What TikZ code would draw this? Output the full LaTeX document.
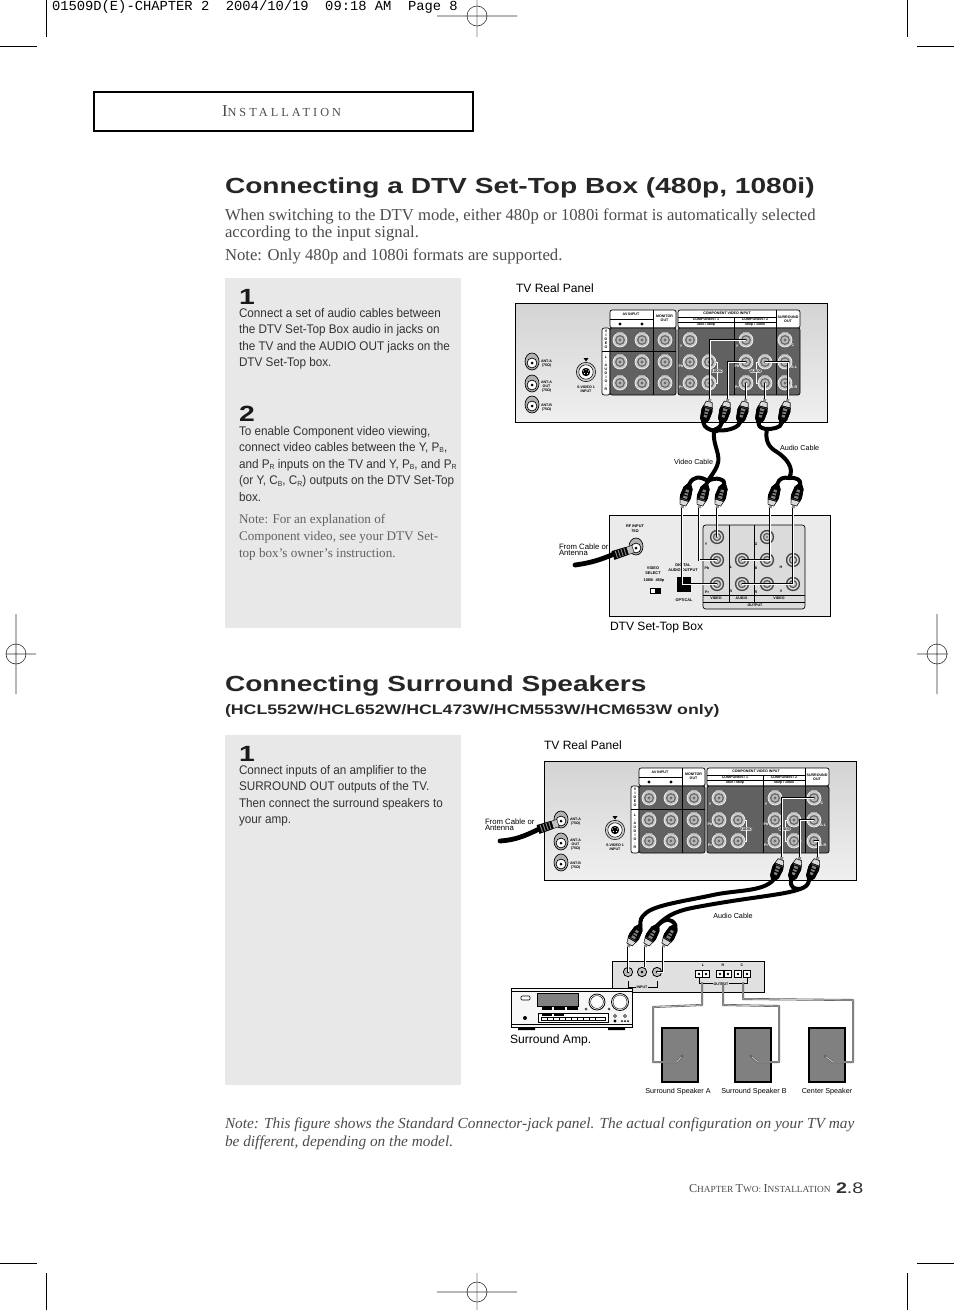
\documentclass[tikz,border=0pt]{standalone}
\usepackage{fontspec}
\setmainfont{Liberation Serif}
\newfontfamily\sn[FakeStretch=0.935]{Liberation Sans}
\newfontfamily\hd[FakeStretch=1.285]{Liberation Sans}
\newfontfamily\pn{Liberation Sans}
\newfontfamily\mn{Liberation Mono}
\tikzset{
  x=0.75pt,y=-0.75pt,
  txt/.style={inner sep=0pt,outer sep=0pt,anchor=base west},
  para/.style={inner sep=0pt,outer sep=0pt,anchor=north west,align=left},
  capt/.style={inner sep=0pt,outer sep=0pt,anchor=base west,font=\pn\fontsize{9.05}{10}\selectfont,text=black},
  lbl/.style={inner sep=0pt,outer sep=0pt,font=\pn\fontsize{5.4}{5.6}\selectfont,text=black},
  pt/.style={inner sep=0pt,outer sep=0pt,align=center,font=\pn\bfseries\fontsize{2.7}{3.0}\selectfont,text=black},
  ptw/.style={pt,text=white},
  pts/.style={inner sep=0pt,outer sep=0pt,align=center,font=\pn\bfseries\fontsize{2.9}{3.6}\selectfont,text=black},
  crop/.style={draw=black,line width=0.7pt},
  reg/.style={draw=black!80,line width=0.45pt},
  regl/.style={draw=black!18,line width=0.9pt},
  jacknode/.style={circle,inner sep=0pt,minimum size=9pt,fill=white,draw=black,line width=0.25pt},
  panelbox/.style={draw=black,line width=0.75pt,top color=black!17,bottom color=black!6},
  darkblock/.style={fill=black!62,draw=black,line width=0.5pt},
  hline/.style={draw=black,line width=0.5pt},
  wire/.style={draw=black,line width=0.3pt,double=white,double distance=0.7pt},
  cable/.style={draw=black,line width=3pt,line cap=round,line join=round},
  spkwire/.style={draw=black!65,line width=0.45pt,double=black!20,double distance=0.6pt,line join=round},
  spk/.style={draw=black,line width=1.3pt,fill=black!50,inner sep=0pt,minimum width=27pt,minimum height=40.5pt},
  amp/.style={draw=black,line width=0.7pt,fill=black!3},
  ampb/.style={draw=black,line width=0.4pt,fill=white},
}
% jack on dark block: name, x, y
\newcommand{\jackgeneric}[3]{%
  \node[jacknode,minimum size=10.6pt,fill=black!22,draw=white,line width=0.4pt] (#1) at (#2,#3) {};
  \fill[black!22] (#2-5.2,#3-2) -- (#2-3,#3-7.6) -- (#2+3,#3-7.6) -- (#2+5.2,#3-2) -- cycle;
  \fill[black!58] (#2,#3) circle (5.0);
  \fill[black!28] (#2,#3) circle (3.5);
  \fill[black!58] (#2,#3) circle (1.7);
}
% jack on light block
\newcommand{\jackd}[3]{%
  \node[jacknode,minimum size=10.4pt,fill=black!75,draw=black!75] (#1) at (#2,#3) {};
  \fill[black!15] (#2,#3) circle (5.7);
  \fill[black!65] (#2,#3) circle (4.2);
  \fill[black!22] (#2,#3) circle (2.8);
  \fill[black!55] (#2,#3) circle (1.2);
}
% antenna jack
\newcommand{\antjack}[3]{%
  \fill[black!30,draw=black,line width=0.5pt] (#2,#3-1.5) ellipse (7 and 8.5);
  \node[jacknode,minimum size=7.4pt,fill=white,draw=black,line width=0.5pt] (#1) at (#2,#3) {};
  \fill[black] (#2,#3) circle (1.5);
}
% plug: name, tip x, tip y, angle
\newcommand{\plugg}[4]{%
  \begin{scope}[shift={(#2,#3)},rotate=#4]
    \coordinate (#1-tip) at (0,0);
    \coordinate (#1-back) at (0,25);
    \fill[black!45] (-1.4,0) rectangle (1.4,3);
    \fill[black!15,draw=black,line width=0.3pt] (-3,3) -- (3,3) -- (4.4,8) -- (-4.4,8) -- cycle;
    \fill[black] (-4.8,8) -- (4.8,8) -- (5.6,12) -- (4.6,21) -- (1.9,25) -- (-1.9,25) -- (-4.6,21) -- (-5.6,12) -- cycle;
    \fill[black!50] (-2.2,10) -- (2.2,10) -- (1.5,19) -- (-1.5,19) -- cycle;
    \fill[black] (-2.2,12.5) rectangle (2.2,13.5) (-2.2,15.5) rectangle (2.2,16.5);
    \draw[black!60,line width=0.3pt] (-4.2,8.8) -- (4.2,8.8);
  \end{scope}
}
% antenna plug (shift, angle)
\newcommand{\antplug}[3]{%
  \begin{scope}[shift={(#1,#2)},rotate=#3]
    \fill[black!25,draw=black,line width=0.3pt] (-3.8,0) rectangle (3.8,6);
    \fill[black] (-4.2,6) -- (4.2,6) -- (4.6,21) -- (-4.6,21) -- cycle;
    \fill[black!45] (-3.6,8) rectangle (3.6,9) (-3.6,11) rectangle (3.6,12) (-3.6,14) rectangle (3.6,15) (-3.6,17) rectangle (3.6,18);
  \end{scope}
}
% TV rear panel at offset
\newcommand{\tvpanel}[3]{% prefix, dx, dy
  \begin{scope}[shift={(#2,#3)}]
    \node[panelbox,inner sep=0pt,minimum width=234pt,minimum height=89.5pt,anchor=north west] (#1-box) at (515,303) {};
    \draw[hline,fill=white,rounded corners=1.6] (610,328) -- (610,310) -- (676,310) -- (676,328) -- cycle;
    \draw[hline] (653,310) -- (653,328) (610,319) -- (653,319);
    \node[pt] (#1-av) at (631,314.5) {AV INPUT};
    \node[pt] (#1-mon) at (664.5,318.5) {MONITOR\\OUT};
    \node[circle,fill=black,inner sep=0pt,minimum size=2.4pt] (#1-c1) at (620,324) {};
    \node[circle,fill=black,inner sep=0pt,minimum size=2.4pt] (#1-c2) at (642,324) {};
    \draw[hline,fill=white,rounded corners=1.6] (610,328) -- (602,328) -- (602,395) -- (610,395) -- cycle;
    \node[pt] (#1-vv) at (606,339.5) {V\\I\\D\\E\\O};
    \node[pt] (#1-vl) at (606,373) {L\\-\\A\\U\\D\\I\\O\\-\\R};
    \draw[darkblock,rounded corners=1.6] (610,328) -- (676,328) -- (676,395) -- (610,395) -- cycle;
    \draw[hline] (653,328) -- (653,395) (602,351) -- (676,351);
    \draw[hline,fill=white,rounded corners=1.6] (678,328) -- (678,310) -- (800,310) -- (800,328) -- cycle;
    \draw[hline] (776,310) -- (776,328) (678,317) -- (776,317) (678,322) -- (776,322) (734,317) -- (734,328);
    \node[pt] (#1-cv) at (727,313.6) {COMPONENT VIDEO INPUT};
    \node[pt] (#1-c1t) at (706,319.6) {COMPONENT 1};
    \node[pt] (#1-c2t) at (755,319.6) {COMPONENT 2};
    \node[pt] (#1-r1) at (706,325) {480i / 480p};
    \node[pt] (#1-r2) at (755,325) {480p / 1080i};
    \node[pt] (#1-sur) at (788,319) {SURROUND\\OUT};
    \draw[darkblock,rounded corners=1.6] (678,328) -- (800,328) -- (800,395) -- (678,395) -- cycle;
    \draw[hline] (734,328) -- (734,395) (776,328) -- (776,395);
    \foreach \nm/\xx/\yy in {a1/620/340,a2/642/340,a3/665/340,a4/620/362,a5/642/362,a6/665/362,a7/620/383,a8/642/383,a9/665/383,
      y1/690/340,b1/690/362,l1/709/362,r1/690/383,rr1/709/383,y2/746/340,b2/746/362,l2/765/362,r2/746/383,rr2/765/383,c/785/340,sl/785/362,sr/785/383}{
      \jackgeneric{#1-\nm}{\xx}{\yy}
    }
    \draw[white,line width=0.4pt] (716,362.5) -- (717.5,362.5) -- (717.5,383.5) -- (716,383.5);
    \draw[white,line width=0.4pt] (758,362.5) -- (756,362.5) -- (756,383.5) -- (758,383.5);
    \node[pt,fill=white,rounded corners=1,inner sep=0.3pt] (#1-ad1) at (717,371) {AUDIO};
    \node[pt,fill=white,rounded corners=1,inner sep=0.3pt] (#1-ad2) at (755.5,371) {AUDIO};
    \foreach \tt/\xx/\yy in {Y/681/346,Pb/681/366,Pr/681/387,Y/737/346,Pb/737/366,Pr/737/387}{
      \node[ptw] at (\xx,\yy) {\tt};
    }
    \node[ptw] (#1-tc) at (793,345) {C};
    \node[ptw] (#1-tl) at (794,367) {A-L};
    \node[ptw] (#1-tr) at (794,387) {A-R};
    \antjack{#1-ant1}{532}{363}
    \antjack{#1-ant2}{532}{385}
    \antjack{#1-ant3}{532}{406}
    \node[pt,anchor=west] (#1-t1) at (541,364) {ANT-A\\(75Ω)};
    \node[pt,anchor=west] (#1-t2) at (541,387) {ANT-A\\OUT\\(75Ω)};
    \node[pt,anchor=west] (#1-t3) at (541,408) {ANT-B\\(75Ω)};
    \node[circle,inner sep=0pt,minimum size=14.5pt,fill=black!20,draw=black,line width=0.4pt] (#1-sv) at (586,372) {};
    \draw[black,line width=0.4pt,fill=white] (586,372) circle (7.2);
    \fill[black] (586,372) circle (4.2);
    \fill[white] (583.5,371) circle (0.7) (588.5,371) circle (0.7) (586,369.5) circle (0.7) (584.5,373.5) circle (0.7) (587.5,373.5) circle (0.7);
    \fill[black] (583.5,358) -- (588.5,358) -- (586,361.5) -- cycle;
    \node[pt] (#1-svt) at (586,389.5) {S-VIDEO 1\\INPUT};
  \end{scope}
}
\newcommand{\sbb}[1]{\raisebox{-0.2ex}{\fontsize{5.5}{6}\selectfont #1}}
\begin{document}
\begin{tikzpicture}
\useasboundingbox (0,0) rectangle (954,1310);
\fill[white] (0,0) rectangle (954,1310);

% ---------- print marks
\draw[crop] (46,0) -- (46,37) (907,0) -- (907,37) (0,46) -- (37,46) (917,46) -- (954,46);
\draw[crop] (46,1273) -- (46,1310) (907,1273) -- (907,1310) (0,1263) -- (37,1263) (917,1263) -- (954,1263);
\draw[regl] (477,0) -- (477,37);
\draw[reg] (437,16) -- (517,16) (477,16) circle (10);
\draw[regl] (477,1273) -- (477,1310);
\draw[reg] (437,1292) -- (517,1292) (477,1292) circle (10);
\draw[reg] (16,614) -- (16,694) (6,654) -- (36,654) (16,654) circle (10);
\draw[reg] (937,614) -- (937,694) (917,654) -- (948,654) (937,654) circle (10);
\node[txt,font=\mn\fontsize{10.35}{11}\selectfont] (slug) at (52,10.5) {01509D(E)-CHAPTER 2\ \ 2004/10/19\ \ 09:18 AM\ \ Page 8};

% ---------- header
\draw[black,line width=0.8pt] (94,92) rectangle (473,131);
\node[txt,text=black!70] (head) at (222,116.5) {\addfontfeature{LetterSpace=25}\fontsize{12.5}{13}\selectfont I\fontsize{9.2}{10}\selectfont NSTALLATION};

% ---------- titles
\node[txt,font=\hd\bfseries\fontsize{16.4}{18}\selectfont,text=black!85] (t1) at (225,193) {Connecting a DTV Set-Top Box (480p, 1080i)};
\node[para,font=\fontsize{12.5}{12.8}\selectfont,text=black!70] (p1) at (225,208.5) {When switching to the DTV mode, either 480p or 1080i format is automatically selected\\according to the input signal.};
\node[txt,font=\fontsize{12.5}{13}\selectfont,text=black!70] (p2) at (225,260) {Note: Only 480p and 1080i formats are supported.};
\node[txt,font=\hd\bfseries\fontsize{16.4}{18}\selectfont,text=black!85] (t2) at (225,691) {Connecting Surround Speakers};
\node[txt,font=\hd\bfseries\fontsize{10.35}{11}\selectfont,text=black!85] (t3) at (225,714) {(HCL552W/HCL652W/HCL473W/HCM553W/HCM653W only)};

% ---------- grey boxes
\fill[black!9] (225,278) rectangle (461,628);
\fill[black!9] (225,735) rectangle (461,1085);

\node[txt,font=\hd\bfseries\fontsize{16.5}{18}\selectfont,text=black!90] (n1) at (239,304) {1};
\node[para,font=\sn\fontsize{9.4}{12.4}\selectfont,text=black!80] (s1) at (239,308) {Connect a set of audio cables between\\the DTV Set-Top Box audio in jacks on\\the TV and the AUDIO OUT jacks on the\\DTV Set-Top box.};
\node[txt,font=\hd\bfseries\fontsize{16.5}{18}\selectfont,text=black!90] (n2) at (239,421) {2};
\node[para,font=\sn\fontsize{9.4}{12.4}\selectfont,text=black!80] (s2) at (239,426) {To enable Component video viewing,\\connect video cables between the Y, P\sbb{B},\\and P\sbb{R} inputs on the TV and Y, P\sbb{B}, and P\sbb{R}\\(or Y, C\sbb{B}, C\sbb{R}) outputs on the DTV Set-Top\\box.};
\node[para,font=\fontsize{9.85}{12.75}\selectfont,text=black!62] (s3) at (239,514.5) {Note: For an explanation of\\Component video, see your DTV Set-\\top box’s owner’s instruction.};
\node[txt,font=\hd\bfseries\fontsize{16.5}{18}\selectfont,text=black!90] (n3) at (239,761) {1};
\node[para,font=\sn\fontsize{9.4}{12.4}\selectfont,text=black!80] (s4) at (239,765) {Connect inputs of an amplifier to the\\SURROUND OUT outputs of the TV.\\Then connect the surround speakers to\\your amp.};

% ---------- footer texts
\node[para,font=\itshape\fontsize{11.5}{13.5}\selectfont,text=black!70] (note) at (225,1118) {Note: This figure shows the Standard Connector-jack panel. The actual configuration on your TV may\\be different, depending on the model.};
\node[txt,text=black!70] (foot) at (689,1192.5) {\fontsize{9.1}{9}\selectfont C\fontsize{7}{7}\selectfont HAPTER \fontsize{9.1}{9}\selectfont T\fontsize{7}{7}\selectfont WO: \fontsize{9.1}{9}\selectfont I\fontsize{7}{7}\selectfont NSTALLATION};
\node[txt,font=\hd\fontsize{11.5}{13}\selectfont,text=black!80] (pg) at (836,1193) {\textbf{2}.8};

% ========== TOP DIAGRAM
\node[capt] (cap1) at (516,292.5) {TV Real Panel};
\tvpanel{A}{0}{0}
% DTV box
\node[inner sep=0pt,draw=black,line width=0.75pt,fill=black!8,minimum width=165.75pt,minimum height=75.75pt,anchor=north west] (dtv) at (609,515) {};
\draw[black,line width=0.5pt,fill=black!14,rounded corners=2] (703,525) rectangle (805,609);
\draw[hline] (703,595) -- (805,595) (703,602) -- (805,602) (729,525) -- (729,602) (754,525) -- (754,602);
\node[pt] (dv1) at (716,598.6) {VIDEO};
\node[pt] (da) at (741.5,598.6) {AUDIO};
\node[pt] (dv2) at (779,598.6) {VIDEO};
\node[pt] (dout) at (755,605.6) {OUTPUT};
\foreach \nm/\xx/\yy in {dy/717/537,dpb/717/560,dpr/717/584,dl/742/560,dr/742/584,dg/767/537,db/767/560,drr/767/584,dh/793/560,dvj/793/584}{
  \jackd{\nm}{\xx}{\yy}
}
\foreach \tt/\xx/\yy in {Y/706/544,Pb/707/568,Pr/707/592,L/731/567,R/731/591,G/756/544,B/756/568,R/756/592,H/781/567,V/781/591}{
  \node[pt] at (\xx,\yy) {\tt};
}
\node[pts] (drf) at (635,529) {RF INPUT\\75Ω};
\node[pts] (dsel) at (653,570.5) {VIDEO\\SELECT};
\node[pts] (dsel2) at (654,580) {1080i\ \ 480p};
\node[pts] (ddig) at (683,568) {DIGITAL\\AUDIO OUTPUT};
\node[pts] (dopt) at (684,600) {OPTICAL};
\node[fill=black,inner sep=0pt,minimum width=10.5pt,minimum height=11.25pt] (optsq) at (684,584.5) {};
\draw[black,line width=0.3pt,fill=white] (650,588) rectangle (660,593);
\fill[black] (655,588) rectangle (660,593);
\node[capt] (cap2) at (610,630) {DTV Set-Top Box};
\node[lbl,anchor=base west] (lvid) at (674,464) {Video Cable};
\node[lbl,anchor=base west] (laud) at (780,450) {Audio Cable};
\node[lbl,anchor=west,align=left,font=\pn\fontsize{5.8}{4.7}\selectfont] (lfrom) at (559,549.5) {From Cable or\\Antenna};

% plugs (coordinates first for cables)
\coordinate (stemA) at (714,430);
\coordinate (stemB) at (708,481);
\coordinate (stemC) at (767,429);
\coordinate (stemD) at (789,478);
\plugg{u1}{710}{399}{-15}
\plugg{u2}{728}{399}{-15}
\plugg{u3}{746}{399}{-15}
\plugg{u4}{765}{399}{-15}
\plugg{u5}{788}{399}{-15}
\plugg{d1}{682}{508}{163}
\plugg{d2}{699}{508}{163}
\plugg{d3}{717}{508}{163}
\plugg{d4}{770}{508}{163}
\plugg{d5}{793}{508}{163}
% cables
\draw[cable] (u1-back) .. controls (705,432) and (725,432) .. (stemA);
\draw[cable] (u2-back) .. controls (720,428) and (718,428) .. (stemA);
\draw[cable] (u3-back) .. controls (738,428) and (725,432) .. (stemA);
\draw[cable] (stemA) .. controls (712,445) and (722,455) .. (717,466) .. controls (714,473) and (710,477) .. (stemB);
\draw[cable] (d1-back) .. controls (693,476) and (700,476) .. (stemB);
\draw[cable] (d2-back) -- (stemB);
\draw[cable] (d3-back) .. controls (726,480) and (716,476) .. (stemB);
\draw[cable] (u4-back) .. controls (758,428) and (765,429) .. (stemC);
\draw[cable] (u5-back) .. controls (781,428) and (772,429) .. (stemC);
\draw[cable] (stemC) .. controls (765,440) and (768,447) .. (777,452) .. controls (786,458) and (795,468) .. (stemD);
\draw[cable] (d4-back) .. controls (779,478) and (784,477) .. (stemD);
\draw[cable] (d5-back) .. controls (801,480) and (796,477) .. (stemD);
\plugg{u1}{710}{399}{-15}
\plugg{u2}{728}{399}{-15}
\plugg{u3}{746}{399}{-15}
\plugg{u4}{765}{399}{-15}
\plugg{u5}{788}{399}{-15}
\plugg{d1}{682}{508}{163}
\plugg{d2}{699}{508}{163}
\plugg{d3}{717}{508}{163}
\plugg{d4}{770}{508}{163}
\plugg{d5}{793}{508}{163}
% wires
\draw[wire] (u1-tip) |- (A-y2.center);
\draw[wire] (u2-tip) |- (A-b2.center);
\draw[wire] (u3-tip) -- (A-r2.center);
\draw[wire] (u4-tip) -- (A-rr2.center);
\draw[wire] (u5-tip) |- (A-l2.center);
\draw[wire] (d1-tip) |- (dpr.center);
\draw[wire] (d2-tip) |- (dpb.center);
\draw[wire] (d3-tip) -- (dy.center);
\draw[wire] (d4-tip) |- (dl.center);
\draw[wire] (d5-tip) |- (dr.center);
% DTV antenna
\antjack{dant}{636}{548}
\draw[cable,line width=3.6pt] (575,565) .. controls (590,563) and (600,560) .. (614,554);
\antplug{633}{549}{-72}

% ========== LOWER DIAGRAM
\node[capt] (cap3) at (544,749.5) {TV Real Panel};
\tvpanel{B}{29}{458}
\coordinate (joinE) at (800,889);
\plugg{v1}{782}{857}{-21}
\plugg{v2}{800}{857}{-21}
\plugg{v3}{818}{857}{-21}
\plugg{w1}{628}{947}{150}
\plugg{w2}{645}{947}{150}
\plugg{w3}{663}{947}{150}
\coordinate (joinF) at (658,925);
\draw[cable] (v1-back) .. controls (762,892) and (735,890) .. (713,895) .. controls (685,901) and (655,905) .. (646,913) .. controls (641,917) and (640,920) .. (w1-back);
\draw[cable] (v2-back) .. controls (790,888) and (795,889) .. (joinE);
\draw[cable] (v3-back) .. controls (808,885) and (806,887) .. (joinE);
\draw[cable] (joinE) .. controls (785,895) and (750,897) .. (697,907) .. controls (680,910) and (668,914) .. (joinF);
\draw[cable] (w2-back) -- (joinF);
\draw[cable] (w3-back) .. controls (672,918) and (665,918) .. (joinF);
\plugg{v1}{782}{857}{-21}
\plugg{v2}{800}{857}{-21}
\plugg{v3}{818}{857}{-21}
\plugg{w1}{628}{947}{150}
\plugg{w2}{645}{947}{150}
\plugg{w3}{663}{947}{150}
\draw[wire] (v1-tip) |- (B-c.center);
\draw[wire] (v2-tip) |- (B-sl.center);
\draw[wire] (v3-tip) |- (B-sr.center);
% B antenna
\draw[cable,line width=3.6pt] (500,841) .. controls (515,840) and (525,836) .. (539,829);
\antplug{558}{823}{-72}
\node[lbl,anchor=west,align=left,font=\pn\fontsize{5.8}{4.7}\selectfont] (lfrom2) at (485,825) {From Cable or\\Antenna};
\node[lbl,anchor=base] (laud2) at (733,918) {Audio Cable};

% receiver rear panel
\node[inner sep=0pt,draw=black,line width=0.6pt,fill=black!12,minimum width=114pt,minimum height=23.25pt,anchor=north west] (rcv) at (612,961) {};
\foreach \nm/\xx in {ij1/628,ij2/642,ij3/657}{
  \node[jacknode,minimum size=7pt,fill=black!25,draw=black,line width=0.6pt] (\nm) at (\xx,972) {};
  \fill[black] (\xx,972) circle (1.3);
}
\draw[wire] (w1-tip) -- (ij1.center);
\draw[wire] (w2-tip) -- (w2-tip |- ij2.north);
\draw[wire] (w3-tip) |- (ij3.center);
\draw[black,line width=0.4pt] (628,981) -- (628,987) -- (657,987) -- (657,981);
\node[pt,fill=black!12,inner sep=0.4pt] (inp) at (642,987) {INPUT};
\node[pt] (ol) at (703,965) {L};
\node[pt] (or) at (723,965) {R};
\node[pt] (oc) at (742,965) {C};
\foreach \nm/\xx in {tt1/699,tt2/706,tt3/720,tt4/728,tt5/738,tt6/747}{
  \node[inner sep=0pt,minimum size=5.2pt,draw=black,line width=0.45pt,fill=white] (\nm) at (\xx,974) {};
  \fill[black] (\xx,974) circle (1.3);
}
\draw[black,line width=0.4pt] (699,978) -- (699,983) -- (747,983) -- (747,978);
\node[pt,fill=black!12,inner sep=0.4pt] (outp) at (721,984) {OUTPUT};
\coordinate (oL) at (702,982);
\coordinate (oR) at (723,982);
\coordinate (oC) at (743,982);
% amp
\node[amp,inner sep=0pt,minimum width=90.75pt,minimum height=29.25pt,anchor=north west] (ampb) at (511,988) {};
\draw[black,line width=0.35pt] (511,991) -- (632,991) (511,1024) -- (632,1024);
\fill[black] (518,1027) rectangle (535,1030) (608,1027) rectangle (625,1030);
\draw[ampb,rounded corners=0.8] (521,996) rectangle (530,1000);
\fill[black!50,draw=black,line width=0.4pt] (537,993) rectangle (578,1006);
\draw[black,line width=0.6pt,fill=white] (597,1002) circle (8);
\draw[black,line width=0.3pt] (597,1002) circle (6.4);
\draw[black,line width=0.6pt,fill=white] (620,1002) circle (8.5);
\draw[black,line width=0.3pt] (620,1002) circle (7);
\draw[black,line width=0.3pt] (586,1009) circle (1.2) (609,1009) circle (1.2);
\foreach \aa/\bb in {542/552,554/565,567/578}{\fill[black] (\aa,1007.3) rectangle (\bb,1010);}
\draw[ampb] (538,1013) rectangle (608,1022);
\foreach \aa/\bb in {542/552,554/564}{\fill[black] (\aa,1013.8) rectangle (\bb,1015.6);}
\draw[black,line width=0.3pt] (541,1017) rectangle (605,1020.5);
\foreach \xx in {547,553,559,565,571,577,583,589,595}{\draw[black,line width=0.3pt] (\xx,1017) -- (\xx,1020.5);}
\fill[black] (525,1018) circle (2);
\fill[black] (615,1021) circle (1.6) (622,1021) circle (1) (625,1021) circle (1) (628,1021) circle (1);
\draw[black,line width=0.3pt] (615,1016) circle (1.5) (625,1016) circle (1.5);
\node[capt] (cap4) at (510,1043.5) {Surround Amp.};
% speakers
\node[spk,anchor=north west] (spa) at (661,1027) {};
\node[spk,anchor=north west] (spb) at (734,1027) {};
\node[spk,anchor=north west] (spc) at (808,1027) {};
\coordinate (pa) at (682,1056);
\coordinate (pb) at (751,1056);
\coordinate (pc) at (825,1056);
\draw[spkwire] (oL) -- (702,1005) -- (653,1007) -- (653,1062) -- (677,1062) -- (pa);
\draw[spkwire] (oR) -- (723,1005) -- (779,1006) -- (779,1062) -- (758,1062) -- (pb);
\draw[spkwire] (oC) -- (743,999) -- (853,1000) -- (853,1062) -- (833,1062) -- (pc);
\fill[black!60] (pa) circle (1.6) (pb) circle (1.6) (pc) circle (1.6);
\node[lbl,anchor=base] (ta) at (678,1093) {Surround Speaker A};
\node[lbl,anchor=base] (tb) at (754,1093) {Surround Speaker B};
\node[lbl,anchor=base] (tc) at (827,1093) {Center Speaker};
\end{tikzpicture}
\end{document}
